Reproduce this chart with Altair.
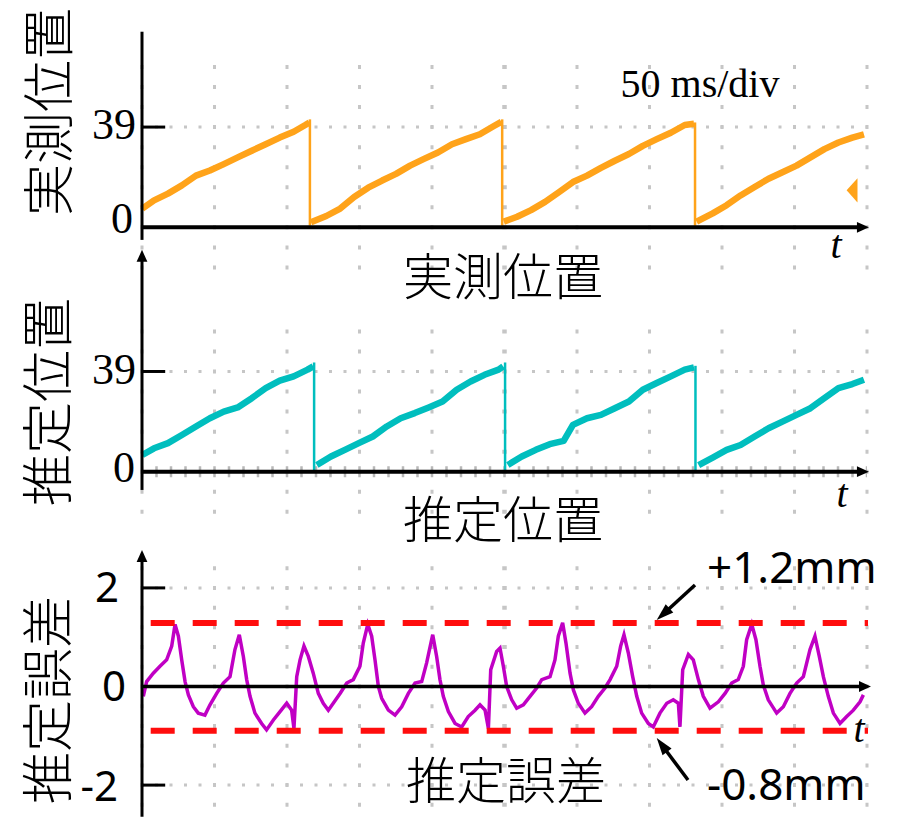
import altair as alt
import pandas as pd

# ---------------- values ----------------
# time axis: 50 ms/div, 10 divisions
div_t = list(range(0, 501, 50))
panel_titles = ["実測位置", "推定位置", "推定誤差"]
time_label = ["50 ms/div"]
pos_tick_vals = [0, 39]
pos_tick_labels = ["0", "39"]
err_tick_vals = [2, 0, -2]
err_tick_labels = ["2", "0", "-2"]

# measured position (orange), one list per ramp
meas_t = [
    [0.2, 8.3, 17.9, 27.5, 37.2, 46.8, 56.4, 66.0, 75.7, 85.3, 95.0, 104.6, 112.6, 115.5],
    [116.5, 127.1, 136.7, 146.3, 156.0, 165.6, 175.2, 184.9, 194.5, 204.1, 213.8, 223.4, 233.0, 242.7, 247.8],
    [249.5, 258.7, 268.3, 278.0, 287.6, 297.2, 306.9, 316.5, 326.1, 335.8, 345.4, 355.0, 364.7, 374.3, 380.7],
    [382.5, 393.6, 403.2, 412.8, 422.5, 432.1, 441.7, 451.4, 461.0, 470.6, 480.3, 489.9, 497.9],
]
meas_v = [
    [7.3, 10.5, 13.1, 16.3, 20.1, 22.1, 24.6, 27.2, 29.8, 32.3, 34.9, 37.2, 39.8, 40.8],
    [2.0, 4.4, 7.3, 11.8, 15.4, 18.2, 20.8, 24.0, 26.6, 29.1, 32.3, 34.3, 36.2, 39.4, 41.0],
    [2.2, 4.1, 6.7, 9.9, 13.7, 17.6, 20.1, 23.1, 25.9, 28.5, 31.7, 34.3, 36.8, 39.8, 40.3],
    [2.2, 5.4, 8.6, 12.4, 15.7, 18.9, 21.4, 24.0, 27.2, 30.4, 33.0, 34.9, 36.2],
]
meas_drop_t = [115.8, 248.4, 381.4]
meas_drop_hi = [42.0, 42.0, 40.8]
meas_drop_lo = [0.6, 0.6, 0.6]
meas_marker_t = [491.5]
meas_marker_v = [14.4]

# estimated position (teal)
est_t = [
    [0.2, 8.3, 17.9, 27.5, 37.2, 46.8, 56.4, 66.0, 75.7, 85.3, 95.0, 104.6, 114.2, 118.1],
    [120.6, 130.3, 139.9, 149.5, 159.2, 168.8, 178.4, 188.1, 197.7, 207.3, 217.0, 226.6, 236.2, 245.9, 249.1],
    [252.3, 261.9, 271.6, 281.2, 290.8, 297.2, 306.9, 316.5, 326.1, 335.8, 345.4, 355.0, 364.7, 374.3, 380.7],
    [383.9, 393.6, 403.2, 412.8, 422.5, 432.1, 441.7, 451.4, 461.0, 470.6, 480.3, 489.9, 497.9],
]
est_v = [
    [6.5, 9.1, 11.1, 14.3, 17.6, 20.8, 23.4, 25.0, 28.6, 32.5, 35.4, 37.1, 39.7, 41.0],
    [2.6, 5.9, 8.5, 11.1, 13.7, 17.6, 20.8, 22.8, 25.0, 27.3, 31.9, 35.1, 37.7, 39.7, 41.0],
    [2.6, 5.9, 8.5, 10.7, 12.0, 18.2, 20.8, 22.1, 24.7, 27.3, 31.9, 34.5, 37.1, 39.7, 40.6],
    [2.6, 5.5, 8.5, 10.4, 13.7, 16.9, 19.5, 22.1, 24.7, 28.6, 32.5, 34.1, 35.8],
]
est_drop_t = [118.7, 250.4, 381.7]
est_drop_hi = [42.5, 42.5, 41.2]
est_drop_lo = [0.6, 0.6, 0.6]

# estimation error (magenta), mm
err_t = [
    0.9, 3.2, 7.8, 12.4, 17.0, 20.5, 22.8, 25.1, 27.4, 29.7,
    32.0, 35.4, 38.8, 43.4, 46.9, 51.5, 56.1, 60.7, 64.1, 67.1,
    69.9, 72.2, 74.5, 77.9, 82.5, 85.9, 90.6, 95.2, 99.8, 103.2,
    104.8, 106.7, 109.0, 111.7, 114.7, 118.1, 121.6, 125.0, 128.5, 131.9,
    136.6, 141.2, 145.7, 150.3, 152.6, 155.7, 158.4, 160.7, 163.0, 165.3,
    169.9, 174.5, 179.1, 183.7, 188.3, 192.9, 196.3, 200.5, 203.2, 205.5,
    207.8, 211.3, 215.9, 220.5, 225.0, 229.7, 233.1, 236.6, 238.9, 240.5,
    244.6, 246.9, 249.2, 251.5, 255.0, 258.4, 263.0, 267.6, 272.2, 275.7,
    281.4, 284.8, 287.1, 290.1, 292.4, 295.2, 297.5, 300.9, 305.5, 310.1,
    314.7, 319.3, 322.8, 327.4, 330.1, 332.4, 335.4, 338.4, 341.2, 344.6,
    349.2, 352.6, 357.2, 361.9, 366.4, 369.9, 371.0, 372.9, 376.8, 380.2,
    383.7, 387.1, 391.7, 397.5, 402.1, 406.7, 411.2, 414.7, 417.0, 420.5,
    423.4, 426.2, 428.5, 431.9, 437.7, 442.3, 446.9, 451.5, 456.1, 460.7,
    464.1, 467.1, 469.9, 473.3, 476.8, 481.4, 486.0, 490.6, 495.2, 497.5,
]
err_v = [
    -0.2, 0.1, 0.27, 0.41, 0.54, 0.82, 1.26, 1.02, 0.54, 0.1,
    -0.17, -0.41, -0.54, -0.58, -0.37, -0.14, 0.07, 0.2, 0.75, 1.05,
    0.61, 0.14, -0.2, -0.54, -0.75, -0.88, -0.68, -0.51, -0.34, -0.48,
    -0.85, 0.2, 0.54, 0.82, 0.61, 0.27, -0.14, -0.34, -0.48, -0.34,
    -0.14, 0.07, 0.14, 0.41, 0.88, 1.26, 1.02, 0.54, 0.0, -0.24,
    -0.48, -0.58, -0.41, -0.14, 0.07, 0.1, 0.48, 1.05, 0.61, 0.14,
    -0.2, -0.51, -0.75, -0.82, -0.61, -0.48, -0.37, -0.48, -0.85, 0.34,
    0.71, 0.78, 0.41, 0.0, -0.27, -0.44, -0.37, -0.2, -0.03, 0.14,
    0.2, 0.54, 1.02, 1.29, 0.88, 0.27, -0.07, -0.34, -0.54, -0.41,
    -0.2, -0.03, 0.14, 0.41, 0.82, 1.05, 0.68, 0.2, -0.2, -0.54,
    -0.75, -0.82, -0.54, -0.34, -0.27, -0.34, -0.82, 0.34, 0.65, 0.54,
    0.14, -0.2, -0.44, -0.31, -0.14, 0.07, 0.14, 0.41, 0.95, 1.26,
    0.95, 0.41, 0.03, -0.27, -0.54, -0.41, -0.14, 0.07, 0.2, 0.75,
    1.02, 0.61, 0.2, -0.2, -0.54, -0.75, -0.61, -0.48, -0.31, -0.17,
]
bound_v = [1.29, -0.90]
bound_labels = ["+1.2mm", "-0.8mm"]

# ---------------- styling ----------------
ORANGE = "#ffa31a"
TEAL = "#00bebe"
MAGENTA = "#c000c4"
RED = "#ff0d0d"
GRID = "#c6c6c6"
SERIF = "Liberation Serif"
SANS = "Noto Sans"
CJK = "Noto Sans CJK JP"

W, H = 899, 809
X = alt.Scale(domain=[-92.414, 527.586], nice=False, zero=False)
Y1 = alt.Scale(domain=[-229.455, 85.331], nice=False, zero=False)
Y2 = alt.Scale(domain=[-134.358, 180.428], nice=False, zero=False)
Y3 = alt.Scale(domain=[-2.647, 13.763], nice=False, zero=False)


def xq(f):
    return alt.X(f + ":Q", scale=X, axis=None)


def yq(f, S):
    return alt.Y(f + ":Q", scale=S, axis=None)


def seg_frame(ts, vs):
    rows = []
    for i, (tt, vv) in enumerate(zip(ts, vs)):
        for a, b in zip(tt, vv):
            rows.append({"t": a, "v": b, "seg": i})
    return pd.DataFrame(rows)


layers = []

# ---------- grid ----------
def vgrid(S, top, bottom, row_px, tl, width):
    df = pd.DataFrame({"t": tl, "a": top, "b": bottom})
    return alt.Chart(df).mark_rule(
        color=GRID, strokeWidth=width, strokeDash=[4, row_px - 4],
        strokeDashOffset=row_px / 2 + 2,
    ).encode(x=xq("t"), y=yq("a", S), y2=alt.Y2("b"))


def hdots(S, vals, width=3, color=GRID, dash=(3, 11.5), off=1.5):
    df = pd.DataFrame({"v": vals, "t0": div_t[0], "t1": div_t[-1]})
    return alt.Chart(df).mark_rule(
        color=color, strokeWidth=width, strokeDash=list(dash), strokeDashOffset=off
    ).encode(x=xq("t0"), x2=alt.X2("t1"), y=yq("v", S))


side_t = [d for d in div_t if d != 250]
mid_t = [250]
for S, top, bot, row in [(Y1, 66.3, -19.5, 20.05), (Y2, 58.5, -19.5, 20.05), (Y3, 2.6, -2.64, 19.72)]:
    layers.append(vgrid(S, top, bot, row, side_t, 3))
    layers.append(vgrid(S, top, bot, row, mid_t, 4.5))
layers.append(hdots(Y1, [39]))
layers.append(hdots(Y2, [39]))
layers.append(hdots(Y3, [2, -2]))
layers.append(hdots(Y2, [0], width=11, color="#b8b8b8", dash=(2.5, 12), off=1.25))

# ---------- traces ----------
layers.append(alt.Chart(seg_frame(meas_t, meas_v)).mark_line(
    color=ORANGE, strokeWidth=6.5, strokeJoin="round").encode(
    x=xq("t"), y=yq("v", Y1), detail="seg:N"))
layers.append(alt.Chart(pd.DataFrame({"t": meas_drop_t, "hi": meas_drop_hi, "lo": meas_drop_lo}))
              .mark_rule(color=ORANGE, strokeWidth=2.5)
              .encode(x=xq("t"), y=yq("hi", Y1), y2=alt.Y2("lo")))
layers.append(alt.Chart(pd.DataFrame({"t": meas_marker_t, "v": meas_marker_v})).mark_point(
    shape="M-1,0L0.35,-1.5L0.35,1.5Z", size=260, filled=True, color=ORANGE, opacity=1).encode(
    x=xq("t"), y=yq("v", Y1)))

layers.append(alt.Chart(seg_frame(est_t, est_v)).mark_line(
    color=TEAL, strokeWidth=6.5, strokeJoin="round").encode(
    x=xq("t"), y=yq("v", Y2), detail="seg:N"))
layers.append(alt.Chart(pd.DataFrame({"t": est_drop_t, "hi": est_drop_hi, "lo": est_drop_lo}))
              .mark_rule(color=TEAL, strokeWidth=2.5)
              .encode(x=xq("t"), y=yq("hi", Y2), y2=alt.Y2("lo")))

layers.append(alt.Chart(pd.DataFrame({"t": err_t, "v": err_v})).mark_line(
    color=MAGENTA, strokeWidth=3.5, strokeJoin="miter").encode(x=xq("t"), y=yq("v", Y3)))

layers.append(alt.Chart(pd.DataFrame({"v": bound_v, "t0": 6.0, "t1": 500.7})).mark_rule(
    color=RED, strokeWidth=6, strokeDash=[24, 18]).encode(
    x=xq("t0"), x2=alt.X2("t1"), y=yq("v", Y3)))

# ---------- axes ----------
ARROW_R = "M1,0L-1,-0.9L-1,0.9Z"
ARROW_U = "M0,-1L-0.9,1L0.9,1Z"


def vline(S, top, bot, width=3):
    df = pd.DataFrame({"t": [0], "a": [top], "b": [bot]})
    return alt.Chart(df).mark_rule(color="black", strokeWidth=width).encode(
        x=xq("t"), y=yq("a", S), y2=alt.Y2("b"))


def hline(S, t_end, width=4):
    df = pd.DataFrame({"v": [0], "t0": [0], "t1": [t_end]})
    return alt.Chart(df).mark_rule(color="black", strokeWidth=width).encode(
        x=xq("t0"), x2=alt.X2("t1"), y=yq("v", S))


def head(S, t, v, shape):
    df = pd.DataFrame({"t": [t], "v": [v]})
    return alt.Chart(df).mark_point(shape=shape, size=144, filled=True, color="black",
                                    opacity=1).encode(x=xq("t"), y=yq("v", S))


def inticks(S, vals):
    df = pd.DataFrame({"v": vals, "t0": 0, "t1": 16})
    return alt.Chart(df).mark_rule(color="black", strokeWidth=3).encode(
        x=xq("t0"), x2=alt.X2("t1"), y=yq("v", S))


layers += [
    vline(Y1, 76.1, -4.9), hline(Y1, 494), head(Y1, 497.2, 0, ARROW_R), inticks(Y1, [39]),
    vline(Y2, 83.0, -7.1), head(Y2, 0, 84.0, ARROW_U), hline(Y2, 494), head(Y2, 497.2, 0, ARROW_R),
    inticks(Y2, [39]),
    vline(Y3, 2.55, -2.64), head(Y3, 0, 2.647, ARROW_U), hline(Y3, 495, 3.5),
    head(Y3, 498.6, 0, ARROW_R), inticks(Y3, [2, -2]),
]

# ---------- tick labels ----------
def tick_label(S, val, lab, xpx, font, size, dy=0):
    df = pd.DataFrame({"v": [val], "lab": [lab]})
    return alt.Chart(df).mark_text(font=font, fontSize=size, align="right", baseline="middle",
                                   dy=dy, color="black").encode(
        x=alt.value(xpx), y=yq("v", S), text="lab:N")


layers += [
    tick_label(Y1, pos_tick_vals[1], pos_tick_labels[1], 128, SERIF, 44, -1),
    tick_label(Y1, pos_tick_vals[0], pos_tick_labels[0], 125, SERIF, 44, -7),
    tick_label(Y2, pos_tick_vals[1], pos_tick_labels[1], 128, SERIF, 44, 0),
    tick_label(Y2, pos_tick_vals[0], pos_tick_labels[0], 127, SERIF, 44, -3),
    tick_label(Y3, err_tick_vals[0], err_tick_labels[0], 111, SANS, 42, 1),
    tick_label(Y3, err_tick_vals[1], err_tick_labels[1], 118, SANS, 42, 1),
    tick_label(Y3, err_tick_vals[2], err_tick_labels[2], 110, SANS, 42, 3),
]

# ---------- text annotations ----------
def text(lab, xpx, ypx, font, size, align="center", baseline="middle", angle=0,
         style="normal", weight="normal"):
    df = pd.DataFrame({"lab": [lab]})
    return alt.Chart(df).mark_text(font=font, fontSize=size, align=align, baseline=baseline,
                                   angle=angle, fontStyle=style, fontWeight=weight,
                                   color="black").encode(
        x=alt.value(xpx), y=alt.value(ypx), text="lab:N")


layers += [
    text(time_label[0], 692, 89, SERIF, 40, baseline="alphabetic"),
    text(panel_titles[0], 44, 104, CJK, 52, angle=270, weight=300),
    text(panel_titles[1], 43, 394, CJK, 52, angle=270, weight=300),
    text(panel_titles[2], 43, 692, CJK, 52, angle=270, weight=300),
    text(panel_titles[0], 495, 272, CJK, 50, weight=300),
    text(panel_titles[1], 495, 515, CJK, 50, weight=300),
    text(panel_titles[2], 498, 776, CJK, 50, weight=300),
    text("t", 828, 238, SERIF, 40, style="italic"),
    text("t", 834, 487, SERIF, 40, style="italic"),
    text("t", 851, 722, SERIF, 40, style="italic"),
    text(bound_labels[0], 699, 575, SANS, 44, align="left", baseline="alphabetic"),
    text(bound_labels[1], 699, 792, SANS, 44, align="left", baseline="alphabetic"),
]

# annotation arrows (+1.2mm / -0.8mm)
def ann_arrow(x1, y1, x2, y2, hx, hy, ang):
    df = pd.DataFrame({"k": [0]})
    line = alt.Chart(df).mark_rule(color="black", strokeWidth=3.5).encode(
        x=alt.value(x1), y=alt.value(y1), x2=alt.value(x2), y2=alt.value(y2))
    tip = alt.Chart(df).mark_point(shape="M0,-1L-0.65,1L0.65,1Z", size=300, filled=True,
                                   color="black", opacity=1, angle=ang).encode(
        x=alt.value(hx), y=alt.value(hy))
    return [line, tip]


layers += ann_arrow(687, 577, 655.1, 606.2, 655.1, 606.2, 227.6)
layers += ann_arrow(680, 772, 653.9, 737.0, 653.9, 737.0, 323.3)

chart = alt.layer(*layers).resolve_scale(y="independent").properties(
    width=W, height=H, padding=0, autosize=alt.AutoSizeParams(type="none"), background="white"
).configure_view(stroke=None)

chart.save("out.html", embed_options={"renderer": "svg", "actions": False})
